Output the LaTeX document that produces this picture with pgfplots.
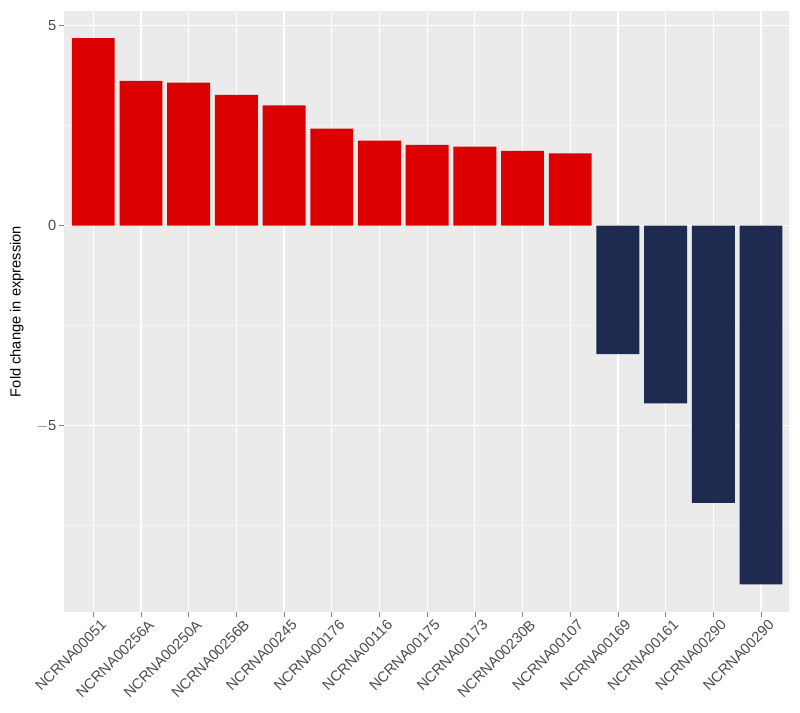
\documentclass[border=0pt]{standalone}
\usepackage{pgfplots}
\pgfplotsset{compat=1.18}
\usepackage{fontspec}
\setmainfont{Liberation Sans}
\definecolor{panelbg}{HTML}{EBEBEB}
\definecolor{upred}{HTML}{DC0000}
\definecolor{downnavy}{HTML}{1E2A50}
\definecolor{ticktext}{HTML}{4D4D4D}
\definecolor{tickcol}{HTML}{333333}
\begin{document}
\begin{tikzpicture}
\begin{axis}[
  scale only axis,
  width=543.75pt, height=450.75pt,
  xmin=-0.614, xmax=14.587,
  ymin=-9.66, ymax=5.37,
  axis background/.style={fill=panelbg},
  axis line style={draw=none},
  xtick={0,...,14},
  xticklabels={NCRNA00051,NCRNA00256A,NCRNA00250A,NCRNA00256B,NCRNA00245,NCRNA00176,NCRNA00116,NCRNA00175,NCRNA00173,NCRNA00230B,NCRNA00107,NCRNA00169,NCRNA00161,NCRNA00290,NCRNA00290},
  xticklabel style={rotate=45, anchor=north east, font=\fontsize{11}{13}\selectfont, text=ticktext, inner sep=1.5pt, xshift=4pt, yshift=-3pt},
  ytick={-5,0,5},
  yticklabels={$-$5,0,5},
  minor ytick={-7.5,-2.5,2.5},
  yticklabel style={font=\fontsize{11}{13}\selectfont, text=ticktext, inner sep=2pt},
  tick align=outside,
  major tick length=3.5pt,
  minor tick length=0pt,
  tick style={draw=tickcol!60, line width=0.5pt},
  xtick pos=bottom, ytick pos=left,
  grid=both,
  major grid style={draw=white, line width=0.9pt},
  minor grid style={draw=white!50!panelbg, line width=0.5pt},
  ylabel={Fold change in expression},
  ylabel style={font=\fontsize{11}{13}\selectfont, at={(axis description cs:-0.065,0.5)}, anchor=center},
  ybar, bar width=0.9, bar shift=0pt,
  clip=true,
]
\addplot[fill=upred, draw=none] coordinates {
 (0,4.69) (1,3.62) (2,3.58) (3,3.27) (4,3.01) (5,2.43) (6,2.13) (7,2.02) (8,1.98) (9,1.87) (10,1.81)
};
\addplot[fill=downnavy, draw=none] coordinates {
 (11,-3.21) (12,-4.44) (13,-6.93) (14,-8.97)
};
\end{axis}
\path (current axis.south west) ++(-48pt,-75.75pt) coordinate (bbA);
\path (current axis.north east) ++(8.25pt,8.25pt) coordinate (bbB);
\path (bbA) rectangle (bbB);
\end{tikzpicture}
\end{document}
